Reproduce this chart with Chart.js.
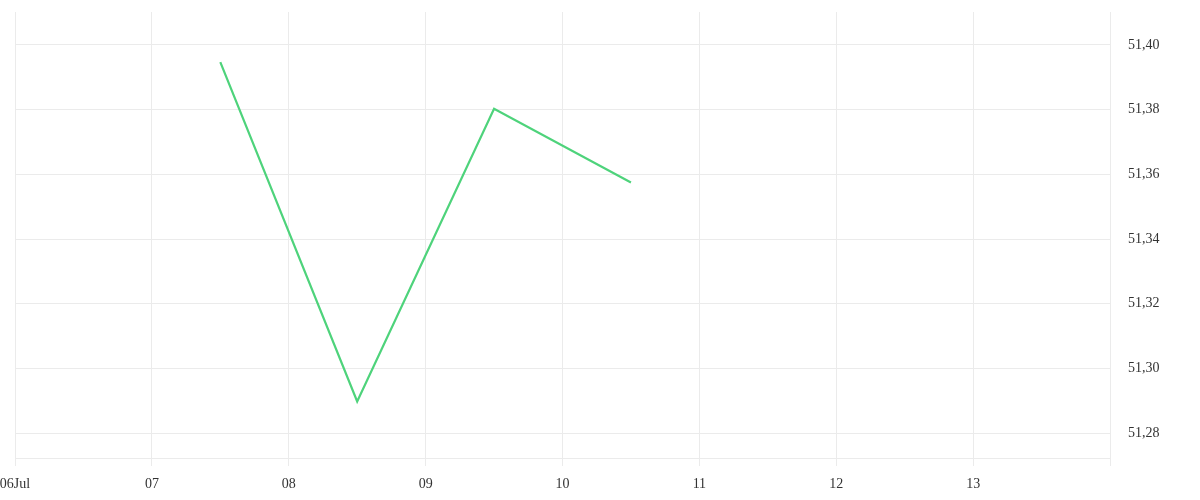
<!DOCTYPE html>
<html>
<head>
<meta charset="utf-8">
<script src="https://cdn.jsdelivr.net/npm/chart.js@4/dist/chart.umd.min.js"></script>
<style>
  html, body { margin: 0; padding: 0; background: #ffffff; }
  #wrap { width: 1200px; height: 500px; }
</style>
</head>
<body>
<div id="wrap"><canvas id="c" width="1200" height="500"></canvas></div>
<script>
// Days of July (12:00 = .5)
const xDays = [7.5, 8.5, 9.5, 10.5];
const values = [51.3947, 51.2898, 51.3803, 51.3575];
const xTickLabels = { 6: '06Jul', 7: '07', 8: '08', 9: '09', 10: '10', 11: '11', 12: '12', 13: '13', 14: '' };
const yMin = 51.2723, yMax = 51.4102, yStep = 0.02;

const FONT = { family: '"Liberation Serif", serif', size: 14 };
const TEXT = '#333333';
const GRID = '#ebebeb';

new Chart(document.getElementById('c'), {
  type: 'line',
  data: {
    datasets: [{
      data: xDays.map((x, i) => ({ x: x, y: values[i] })),
      borderColor: '#4ed37b',
      borderWidth: 2.2,
      pointRadius: 0,
      tension: 0,
      fill: false
    }]
  },
  options: {
    responsive: false,
    animation: false,
    layout: { padding: { top: 12, left: 15, right: 0, bottom: 0 } },
    plugins: { legend: { display: false }, tooltip: { enabled: false } },
    scales: {
      x: {
        type: 'linear',
        min: 6, max: 14,
        ticks: {
          stepSize: 1,
          autoSkip: false,
          maxRotation: 0,
          padding: 10,
          color: TEXT,
          font: FONT,
          callback: v => (xTickLabels[v] !== undefined ? xTickLabels[v] : '')
        },
        grid: { color: GRID, tickLength: 8, drawTicks: true },
        border: { color: GRID },
        afterFit: s => { s.height = 42; s.paddingLeft = 0; s.paddingRight = 0; }
      },
      y: {
        type: 'linear',
        position: 'right',
        min: yMin, max: yMax,
        afterBuildTicks: s => {
          s.ticks = s.ticks.filter(t => Math.abs(t.value / yStep - Math.round(t.value / yStep)) < 1e-6);
        },
        ticks: {
          stepSize: yStep,
          padding: 18,
          color: TEXT,
          font: FONT,
          callback: v => v.toFixed(2).replace('.', ',')
        },
        grid: { color: GRID, drawTicks: false },
        border: { color: GRID },
        afterFit: s => { s.width = 90; s.paddingTop = 0; s.paddingBottom = 0; }
      }
    }
  }
});
</script>
</body>
</html>
